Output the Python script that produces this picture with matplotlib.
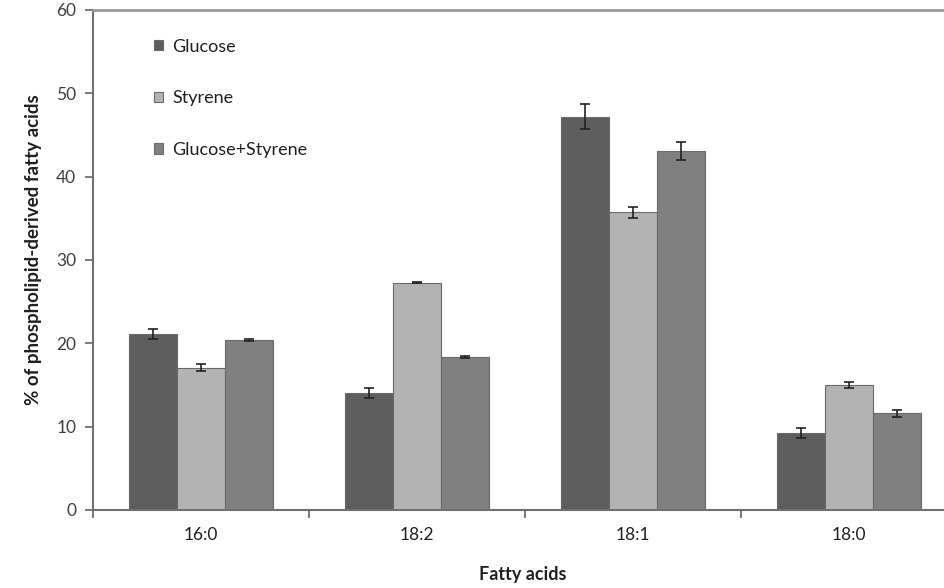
import matplotlib
matplotlib.use("Agg")
import matplotlib.pyplot as plt
import numpy as np

categories = ["16:0", "18:2", "18:1", "18:0"]
series_names = ["Glucose", "Styrene", "Glucose+Styrene"]
glucose = [21.1, 14.0, 47.2, 9.2]
glucose_err = [0.6, 0.6, 1.5, 0.6]
styrene = [17.1, 27.3, 35.7, 15.0]
styrene_err = [0.45, 0.1, 0.7, 0.4]
glu_sty = [20.4, 18.4, 43.1, 11.6]
glu_sty_err = [0.1, 0.1, 1.1, 0.4]
y_ticks = [0, 10, 20, 30, 40, 50, 60]

plt.rcParams['font.family'] = ['Lato', 'DejaVu Sans']

fig = plt.figure(figsize=(9.44, 5.88), dpi=100)
ax = fig.add_axes([93/944, 1 - 510/588, 1 - 93/944, 500/588])

colors = ["#5e5e5e", "#b3b3b3", "#808080"]
values = [glucose, styrene, glu_sty]
errs = [glucose_err, styrene_err, glu_sty_err]
x = np.arange(len(categories))
w = 0.222
for i, (vals, er, c, name) in enumerate(zip(values, errs, colors, series_names)):
    ax.bar(x + (i - 1) * w, vals, width=w, color=c, edgecolor="#6a6a6a",
           linewidth=0.8, label=name, zorder=2)
    ax.errorbar(x + (i - 1) * w, vals, yerr=er, fmt="none", ecolor="#222222",
                elinewidth=1.2, capsize=3.5, capthick=1.2, zorder=3)

ax.set_xlim(-0.5, 3.44)
ax.set_ylim(0, 60)
ax.set_yticks(y_ticks)
ax.set_yticklabels([str(t) for t in y_ticks], fontsize=12.5, color="#404040")
ax.set_xticks(x)
ax.set_xticklabels(categories, fontsize=12.5, color="#202020")
ax.tick_params(axis="x", which="major", length=0, pad=12)
ax.set_xticks(np.arange(-0.5, 3.5, 1.0), minor=True)
ax.tick_params(axis="x", which="minor", length=6, width=1.3, color="#707070", direction="out")
ax.tick_params(axis="y", length=6, width=1.3, color="#707070", direction="out", pad=6)

for s in ["left", "bottom"]:
    ax.spines[s].set_color("#707070")
    ax.spines[s].set_linewidth(1.5)
ax.spines["right"].set_visible(False)
ax.spines["top"].set_color("#999999")
ax.spines["top"].set_linewidth(2.0)

ax.set_ylabel("% of phospholipid-derived fatty acids", fontsize=13.5, fontweight="bold",
              color="#202020")
ax.yaxis.set_label_coords((42 - 93) / 851, (510 - 250) / 500)
ax.set_xlabel("Fatty acids", fontsize=13, fontweight="bold", color="#202020")
ax.xaxis.set_label_coords((523 - 93) / 851, -0.112)

leg = ax.legend(loc="upper left", bbox_to_anchor=(0.053, 0.975), frameon=False,
                fontsize=13, labelspacing=1.97, handlelength=0.5, handleheight=0.5,
                handletextpad=0.5)
for t in leg.get_texts():
    t.set_color("#202020")

fig.savefig("out.png", dpi=100)
